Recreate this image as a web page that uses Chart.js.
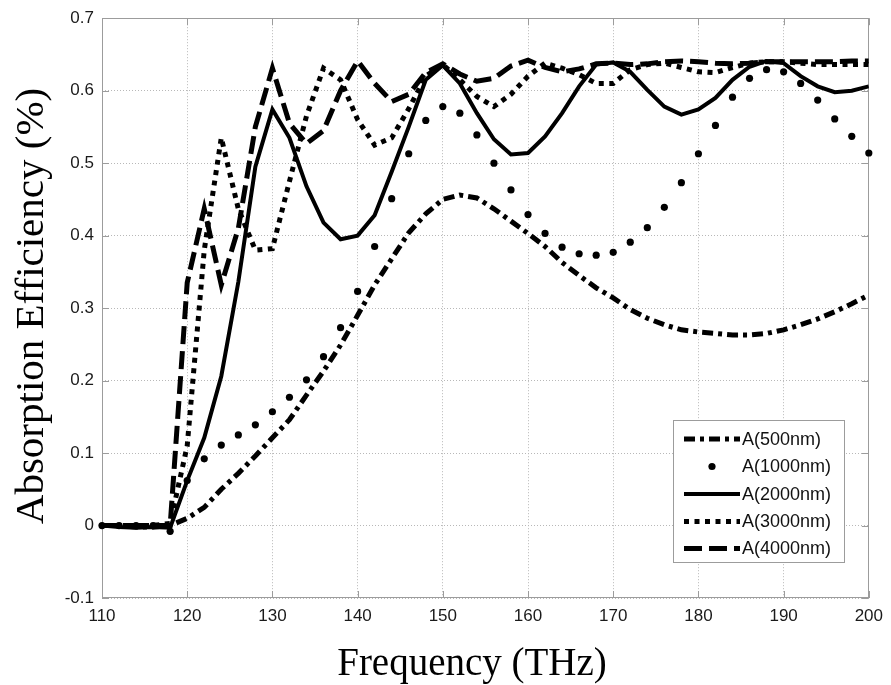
<!DOCTYPE html>
<html>
<head>
<meta charset="utf-8">
<script src="https://cdn.jsdelivr.net/npm/chart.js@4.4.1/dist/chart.umd.min.js"></script>
<style>
  html, body { margin: 0; padding: 0; background: #ffffff; }
  #wrap { width: 891px; height: 685px; }
</style>
</head>
<body>
<div id="wrap"><canvas id="c" width="891" height="685"></canvas></div>
<script>
// ---- data ----
const freq = [110,112,114,116,118,120,122,124,126,128,130,132,134,136,138,140,142,144,146,148,150,152,154,156,158,160,162,164,166,168,170,172,174,176,178,180,182,184,186,188,190,192,194,196,198,200];

const a500 = [0,0,-0.002,-0.002,0,0.01,0.025,0.05,0.072,0.096,0.121,0.146,0.18,0.213,0.249,0.29,0.332,0.368,0.404,0.43,0.45,0.456,0.452,0.437,0.42,0.403,0.385,0.363,0.345,0.328,0.314,0.298,0.286,0.277,0.27,0.267,0.265,0.263,0.263,0.265,0.27,0.277,0.285,0.295,0.306,0.318];

const a1000 = [0,0,0,0,-0.008,0.062,0.092,0.111,0.125,0.139,0.157,0.177,0.201,0.233,0.273,0.323,0.385,0.451,0.513,0.559,0.578,0.569,0.539,0.50,0.463,0.429,0.403,0.384,0.375,0.373,0.377,0.391,0.411,0.439,0.473,0.513,0.552,0.591,0.617,0.629,0.626,0.61,0.587,0.561,0.537,0.514];

const a2000 = [0,-0.002,-0.003,-0.002,-0.003,0.062,0.121,0.206,0.336,0.495,0.574,0.535,0.468,0.418,0.395,0.40,0.428,0.488,0.55,0.615,0.635,0.61,0.569,0.533,0.512,0.514,0.537,0.569,0.606,0.636,0.639,0.626,0.601,0.578,0.567,0.574,0.59,0.615,0.633,0.641,0.638,0.62,0.606,0.598,0.60,0.606];

const a3000 = [0,0,0,0,0.003,0.11,0.38,0.535,0.437,0.38,0.382,0.475,0.565,0.631,0.615,0.56,0.525,0.535,0.575,0.62,0.636,0.615,0.592,0.578,0.595,0.62,0.638,0.631,0.622,0.61,0.61,0.629,0.636,0.638,0.632,0.626,0.625,0.632,0.638,0.64,0.64,0.638,0.636,0.636,0.636,0.636];

const a4000 = [0,0,0,0,0,0.335,0.437,0.332,0.41,0.55,0.631,0.555,0.527,0.545,0.60,0.641,0.61,0.585,0.595,0.625,0.637,0.623,0.613,0.617,0.634,0.642,0.632,0.626,0.63,0.637,0.638,0.636,0.637,0.64,0.641,0.64,0.638,0.637,0.638,0.64,0.64,0.64,0.64,0.64,0.641,0.641];

const seriesNames = ['A(500nm)','A(1000nm)','A(2000nm)','A(3000nm)','A(4000nm)'];

const xTickValues = [110,120,130,140,150,160,170,180,190,200];
const xTickLabels = ['110','120','130','140','150','160','170','180','190','200'];
const yTickValues = [-0.1,0,0.1,0.2,0.3,0.4,0.5,0.6,0.7];
const yTickLabels = ['-0.1','0','0.1','0.2','0.3','0.4','0.5','0.6','0.7'];

const xTitle = 'Frequency (THz)';
const yTitle = 'Absorption Efficiency (%)';

// ---- build chart ----
const toXY = arr => arr.map((v, i) => ({ x: freq[i], y: v }));

const TICK_FONT = { family: '"Liberation Sans", Arial, sans-serif', size: 17 };

const framePlugin = {
  id: 'frame',
  beforeDraw(chart) {
    const ctx = chart.ctx;
    ctx.save();
    ctx.fillStyle = '#ffffff';
    ctx.fillRect(0, 0, chart.width, chart.height);
    ctx.restore();
  },
  beforeDatasetsDraw(chart) {
    const { ctx, chartArea: a, scales } = chart;
    ctx.save();
    ctx.strokeStyle = '#9c9c9c';
    ctx.lineWidth = 1;
    ctx.strokeRect(Math.round(a.left) + 0.5, Math.round(a.top) + 0.5,
                   Math.round(a.right - a.left) - 1, Math.round(a.bottom - a.top) - 1);
    const tl = 7;
    ctx.beginPath();
    xTickValues.forEach(v => {
      const px = Math.round(scales.x.getPixelForValue(v)) + 0.5;
      ctx.moveTo(px, a.bottom); ctx.lineTo(px, a.bottom - tl);
      ctx.moveTo(px, a.top); ctx.lineTo(px, a.top + tl);
    });
    yTickValues.forEach(v => {
      const py = Math.round(scales.y.getPixelForValue(v)) + 0.5;
      ctx.moveTo(a.left, py); ctx.lineTo(a.left + tl, py);
      ctx.moveTo(a.right, py); ctx.lineTo(a.right - tl, py);
    });
    ctx.stroke();
    ctx.restore();
  },
  afterDraw(chart) {
    const { ctx } = chart;
    ctx.save();
    // axis titles
    ctx.fillStyle = '#000';
    ctx.textAlign = 'center';
    ctx.textBaseline = 'alphabetic';
    ctx.font = '39px "Liberation Serif", "Times New Roman", serif';
    ctx.fillText(xTitle, 472, 675);
    ctx.save();
    ctx.font = '41px "Liberation Serif", "Times New Roman", serif';
    ctx.translate(43, 306);
    ctx.rotate(-Math.PI / 2);
    ctx.fillText(yTitle, 0, 0);
    ctx.restore();

    // legend
    const bx = 673, by = 420, bw = 172, bh = 143;
    ctx.fillStyle = '#ffffff';
    ctx.fillRect(bx, by, bw, bh);
    ctx.strokeStyle = '#9c9c9c';
    ctx.lineWidth = 1;
    ctx.strokeRect(bx + 0.5, by + 0.5, bw - 1, bh - 1);
    const rowY = [439, 466.5, 494, 521.5, 548.5];
    const x0 = 684, x1 = 740;
    chart.data.datasets.forEach((ds, i) => {
      const yy = rowY[i];
      ctx.save();
      if (ds.showLine === false) {
        ctx.fillStyle = ds.pointBackgroundColor;
        ctx.beginPath();
        ctx.arc((x0 + x1) / 2, yy, ds.pointRadius, 0, Math.PI * 2);
        ctx.fill();
      } else {
        ctx.strokeStyle = ds.borderColor;
        ctx.lineWidth = ds.borderWidth;
        ctx.lineCap = 'butt';
        ctx.setLineDash(ds.borderDash || []);
        ctx.beginPath();
        ctx.moveTo(x0, yy);
        ctx.lineTo(x1, yy);
        ctx.stroke();
      }
      ctx.restore();
      ctx.fillStyle = '#111';
      ctx.font = '18px "Liberation Sans", Arial, sans-serif';
      ctx.textAlign = 'left';
      ctx.textBaseline = 'middle';
      ctx.fillText(ds.label, 742, yy + 1);
    });
    ctx.restore();
  }
};

const chart = new Chart(document.getElementById('c'), {
  type: 'line',
  data: {
    datasets: [
      { label: seriesNames[0], data: toXY(a500), borderColor: '#000', borderWidth: 5,
        borderDash: [11, 5, 4, 5], pointRadius: 0, fill: false, tension: 0 },
      { label: seriesNames[1], data: toXY(a1000), showLine: false, pointRadius: 3.6,
        pointBackgroundColor: '#000', pointBorderColor: '#000', pointBorderWidth: 0, clip: 6 },
      { label: seriesNames[2], data: toXY(a2000), borderColor: '#000', borderWidth: 4,
        pointRadius: 0, fill: false, tension: 0 },
      { label: seriesNames[3], data: toXY(a3000), borderColor: '#000', borderWidth: 5,
        borderDash: [5, 5.5], pointRadius: 0, fill: false, tension: 0 },
      { label: seriesNames[4], data: toXY(a4000), borderColor: '#000', borderWidth: 5,
        borderDash: [18, 7], pointRadius: 0, fill: false, tension: 0 }
    ]
  },
  options: {
    responsive: false,
    animation: false,
    devicePixelRatio: 1,
    layout: { padding: { left: 0, top: 15, right: 20, bottom: 0 } },
    plugins: { legend: { display: false }, tooltip: { enabled: false } },
    scales: {
      x: {
        type: 'linear', min: 110, max: 200,
        afterBuildTicks: s => { s.ticks = xTickValues.map(v => ({ value: v })); },
        afterFit: s => { s.height = 87; },
        ticks: { callback: (v, i) => xTickLabels[i], font: TICK_FONT, color: '#1a1a1a', padding: 8, maxRotation: 0 },
        grid: { color: '#b8b8b8', lineWidth: 1, drawTicks: false, tickLength: 0 },
        border: { display: false, dash: [1, 2] }
      },
      y: {
        type: 'linear', min: -0.1, max: 0.7,
        afterBuildTicks: s => { s.ticks = yTickValues.map(v => ({ value: v })); },
        afterFit: s => { s.width = 102; },
        ticks: { callback: (v, i) => yTickLabels[i], font: TICK_FONT, color: '#1a1a1a', padding: 8 },
        grid: { color: '#b8b8b8', lineWidth: 1, drawTicks: false, tickLength: 0 },
        border: { display: false, dash: [1, 2] }
      }
    }
  },
  plugins: [framePlugin]
});
</script>
</body>
</html>
